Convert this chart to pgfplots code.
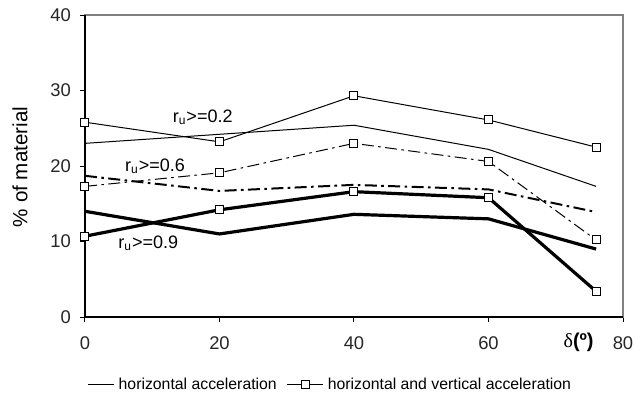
\documentclass[border=0pt]{standalone}
\usepackage{pgfplots}
\pgfplotsset{compat=1.18}
\usepackage{fontspec}
\setmainfont{Liberation Sans}
\newfontfamily\seriffont{Liberation Serif}
\tikzset{ddot/.style={dash pattern=on 6pt off 2.2pt on 1.3pt off 2.2pt}}
\pgfplotsset{
  leglineonly/.style={legend image code/.code={\draw[##1] (0pt,0pt) -- (13pt,0pt);}},
  leglinemark/.style={legend image code/.code={\draw[##1] (0pt,0pt) -- (18pt,0pt); \draw[##1] plot coordinates {(9pt,0pt)};}},
}
\begin{document}
\begin{tikzpicture}
\begin{axis}[
  at={(0,0)}, anchor=south west,
  scale only axis, width=269pt, height=151pt,
  xmin=0, xmax=80, ymin=0, ymax=40,
  xtick={0,20,40,60,80}, ytick={0,10,20,30,40},
  tick align=outside, major tick length=2.5pt,
  xtick pos=bottom, ytick pos=left,
  tick style={black, line width=0.5pt},
  axis line style={gray, line width=0.6pt},
  /pgf/number format/assume math mode=true,
  ticklabel style={font=\fontsize{9.2}{10}\selectfont, text=black!85},
  yticklabel style={xshift=-1pt},
  xticklabel style={yshift=-4pt},
  clip=false,
  legend style={at={(0.458,-0.225)}, anchor=center, draw=none, fill=none,
    font=\fontsize{7.9}{9}\selectfont, legend columns=2,
    /tikz/every even column/.append style={column sep=3pt}},
  legend cell align=left,
]
% horizontal acceleration
\addplot[black, line width=0.5pt, forget plot] coordinates {(0,23.0) (20,24.2) (40,25.4) (60,22.2) (76,17.3)};
\addplot[black, line width=1pt, ddot, forget plot] coordinates {(0,18.7) (20,16.7) (40,17.5) (60,16.9) (76,13.9)};
\addplot[black, line width=1.6pt, forget plot] coordinates {(0,14.0) (20,11.0) (40,13.6) (60,13.0) (76,9.0)};
% horizontal and vertical acceleration
\addplot[black, line width=0.5pt, mark=square*, mark size=2pt, mark options={fill=white, solid, line width=0.5pt}, forget plot] coordinates {(0,25.8) (20,23.2) (40,29.3) (60,26.1) (76,22.5)};
\addplot[black, line width=0.5pt, ddot, mark=square*, mark size=2pt, mark options={fill=white, solid, line width=0.5pt}, forget plot] coordinates {(0,17.3) (20,19.1) (40,23.0) (60,20.6) (76,10.2)};
\addplot[black, line width=1.6pt, mark=square*, mark size=2pt, mark options={fill=white, solid, line width=0.5pt}, forget plot] coordinates {(0,10.7) (20,14.2) (40,16.6) (60,15.8) (76,3.4)};
\addlegendimage{black, line width=0.5pt, leglineonly}
\addlegendentry{horizontal acceleration}
\addlegendimage{black, line width=0.5pt, mark=square*, mark size=2pt, mark options={fill=white}, leglinemark}
\addlegendentry{horizontal and vertical acceleration}
\draw[black, line width=0.6pt] (rel axis cs:0,1) -- (rel axis cs:0,0) -- (rel axis cs:1,0);
\node[font=\fontsize{9}{10}\selectfont] at (axis cs:17.5,26.4) {r\textsubscript{u}>=0.2};
\node[font=\fontsize{9}{10}\selectfont] at (axis cs:10.4,19.9) {r\textsubscript{u}>=0.6};
\node[font=\fontsize{9}{10}\selectfont] at (axis cs:9.4,9.8) {r\textsubscript{u}>=0.9};
\node[font=\fontsize{10}{11}\selectfont] at (axis cs:73.4,-3.4) {{\seriffont δ}\textbf{(º)}};
\node[rotate=90, font=\fontsize{10.3}{12}\selectfont] at ([xshift=-32.5pt]axis description cs:0,0.497) {\% of material};
\end{axis}
\pgfresetboundingbox
\path (-42.5pt,-44.5pt) rectangle (275pt,158.5pt);
\end{tikzpicture}
\end{document}
